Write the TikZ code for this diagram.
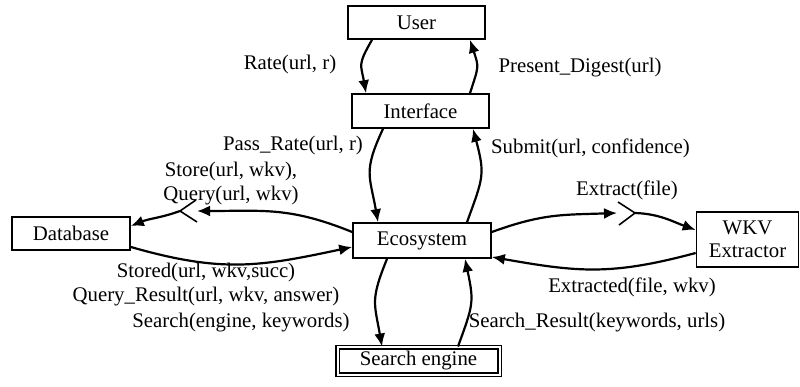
\documentclass[tikz,border=0pt]{standalone}
\usepackage{fontspec}
\setmainfont{Liberation Serif}
\usetikzlibrary{arrows.meta}

\begin{document}
\begin{tikzpicture}[x=1pt, y=1pt, font=\fontsize{20.8}{23.5}\selectfont,
  box/.style={draw, line width=1.7pt, inner sep=0pt},
  msg/.style={line width=2.2pt, -{Latex[length=13pt, width=11pt]}},
  lbl/.style={inner sep=0pt, align=center}]
\useasboundingbox (0,0) rectangle (800,387);
% boxes
\node[box, minimum width=137pt, minimum height=33pt] at (416.5, 364.5) (user) {User};
\node[box, minimum width=137pt, minimum height=34pt] at (420.5, 276) (iface) {Interface};
\node[box, minimum width=138pt, minimum height=35pt] at (422, 146.5) (eco) {Ecosystem};
\node[box, minimum width=118pt, minimum height=33pt] at (71, 153.5) (db) {Database};
\node[box, minimum width=102pt, minimum height=55pt, align=center] at (747.5, 147.5) (wkv) {WKV\\[-1pt]Extractor};
\node[box, line width=1.5pt, double, double distance=2pt, minimum width=162pt, minimum height=27.5pt] at (418.5, 26) (search) {Search engine};
% user <-> interface
\draw[msg] ([xshift=-44.5pt]user.south) to[out=-120, in=100, looseness=1.4] ([xshift=-54.5pt]iface.north);
\node[lbl] at (290, 322) (rate) {Rate(url, r)};
\draw[msg] ([xshift=49.5pt]iface.north) to[out=72, in=-72, looseness=1.4] ([xshift=53.5pt]user.south);
\node[lbl] at (580, 319) (present) {Present\_Digest(url)};
% interface <-> ecosystem
\draw[msg] ([xshift=-37.5pt]iface.south) to[out=-115, in=100, looseness=1.3] ([xshift=-44pt]eco.north);
\node[lbl] at (293, 241) (passrate) {Pass\_Rate(url, r)};
\draw[msg] ([xshift=45pt]eco.north) to[out=70, in=-75, looseness=1.3] ([xshift=52.5pt]iface.south);
\node[lbl] at (590.5, 239) (submit) {Submit(url, confidence)};
% ecosystem <-> database
\coordinate (qm) at (180, 176);
\draw[msg] ([yshift=8.5pt]eco.west) to[out=158, in=0, looseness=1.1] ([xshift=17pt]qm);
\draw[line width=1.6pt] ([shift={(16pt,11pt)}]qm) -- (qm) -- ([shift={(17pt,-11pt)}]qm);
\draw[msg] (qm) to[out=200, in=22] ([yshift=7.5pt]db.east);
\node[lbl] at (231, 203.5) (store) {Store(url, wkv),\\Query(url, wkv)};
\draw[msg] ([yshift=-13.5pt]db.east) to[out=-16, in=192, looseness=1.1] ([yshift=-6.5pt]eco.west);
\node[lbl] at (206, 102.5) (stored) {Stored(url, wkv,succ)\\Query\_Result(url, wkv, answer)};
% ecosystem <-> wkv extractor
\coordinate (xm) at (635, 174);
\draw[msg] ([yshift=8.5pt]eco.east) to[out=20, in=182, looseness=1.1] ([xshift=-18pt]xm);
\draw[line width=1.6pt] ([shift={(-17pt,11pt)}]xm) -- (xm) -- ([shift={(-16pt,-12pt)}]xm);
\draw[msg] (xm) to[out=-2, in=160] ([yshift=9.5pt]wkv.west);
\node[lbl] at (627, 197) (extract) {Extract(file)};
\draw[msg] ([yshift=-13.5pt]wkv.west) to[out=195, in=-10, looseness=1.1] ([yshift=-16.5pt]eco.east);
\node[lbl] at (632, 100) (extracted) {Extracted(file, wkv)};
% ecosystem <-> search engine
\draw[msg] ([xshift=-35pt]eco.south) to[out=-112, in=100, looseness=1.3] ([xshift=-36.5pt]search.north);
\node[lbl] at (241, 64) (searchlbl) {Search(engine, keywords)};
\draw[msg] ([xshift=39.5pt]search.north) to[out=70, in=-78, looseness=1.3] ([xshift=43pt]eco.south);
\node[lbl] at (597, 64) (result) {Search\_Result(keywords, urls)};
\end{tikzpicture}
\end{document}
